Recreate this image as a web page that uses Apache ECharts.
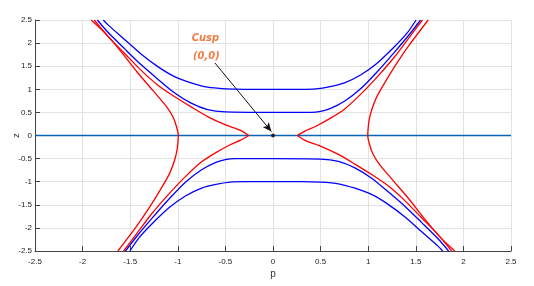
<!DOCTYPE html>
<html>
<head>
<meta charset="utf-8">
<script src="https://cdn.jsdelivr.net/npm/echarts@6/dist/echarts.min.js"></script>
<style>html,body{margin:0;padding:0;background:#fff}#c{width:534px;height:286px}</style>
</head>
<body>
<div id="c"></div>
<script>
// axis ticks
const xTicks = [-2.5, -2, -1.5, -1, -0.5, 0, 0.5, 1, 1.5, 2, 2.5];
const yTicks = [-2.5, -2, -1.5, -1, -0.5, 0, 0.5, 1, 1.5, 2, 2.5];

// blue curves [p, z]
const blueUp1 = [[-1.783,2.5],[-1.736,2.40],[-1.56,2.08],[-1.39,1.77],[-1.21,1.49],[-1.04,1.28],[-0.86,1.14],[-0.687,1.045],[-0.5,1.01],[-0.3,1.0],[0,1.0],[0.3,1.0],[0.45,1.01],[0.6,1.06],[0.75,1.14],[0.92,1.31],[1.09,1.56],[1.27,1.91],[1.41,2.22],[1.503,2.5]];
const blueUp05 = [[-1.845,2.5],[-1.736,2.24],[-1.56,1.88],[-1.39,1.54],[-1.21,1.22],[-1.04,0.93],[-0.86,0.70],[-0.687,0.56],[-0.5,0.51],[0,0.5],[0.4,0.5],[0.5,0.52],[0.6,0.58],[0.75,0.74],[0.92,1.01],[1.09,1.37],[1.27,1.79],[1.43,2.18],[1.55,2.5]];
const blueDn05 = [[1.845,-2.5],[1.736,-2.24],[1.56,-1.88],[1.39,-1.54],[1.21,-1.22],[1.04,-0.93],[0.86,-0.70],[0.687,-0.56],[0.5,-0.51],[0,-0.5],[-0.4,-0.5],[-0.5,-0.52],[-0.6,-0.58],[-0.75,-0.74],[-0.92,-1.01],[-1.09,-1.37],[-1.27,-1.79],[-1.43,-2.18],[-1.55,-2.5]];
const blueDn1 = [[1.783,-2.5],[1.736,-2.40],[1.56,-2.08],[1.39,-1.77],[1.21,-1.49],[1.04,-1.28],[0.86,-1.14],[0.687,-1.045],[0.5,-1.01],[0.3,-1.0],[0,-1.0],[-0.3,-1.0],[-0.45,-1.01],[-0.6,-1.06],[-0.75,-1.14],[-0.92,-1.31],[-1.09,-1.56],[-1.27,-1.91],[-1.41,-2.22],[-1.503,-2.5]];

// red outer curves
const redOuterR = [[1.63,2.5],[1.436,1.97],[1.296,1.55],[1.173,1.14],[1.086,0.82],[1.033,0.53],[1.008,0.31],[0.998,0.12],[0.995,0],[1.015,-0.2],[1.05,-0.40],[1.12,-0.63],[1.26,-0.97],[1.43,-1.38],[1.59,-1.8],[1.755,-2.2],[1.91,-2.5]];
const redOuterL = [[-1.91,2.5],[-1.755,2.2],[-1.59,1.8],[-1.43,1.38],[-1.26,0.97],[-1.12,0.63],[-1.05,0.40],[-1.015,0.2],[-0.995,0],[-0.998,-0.12],[-1.008,-0.31],[-1.033,-0.53],[-1.086,-0.82],[-1.173,-1.14],[-1.296,-1.55],[-1.436,-1.97],[-1.63,-2.5]];

// red inner (cusped) curves, branches
const redInnerRUp = [[0.255,0],[0.34,0.1],[0.45,0.2],[0.60,0.37],[0.75,0.57],[0.92,0.89],[1.10,1.28],[1.28,1.71],[1.43,2.12],[1.57,2.5]];
const redInnerRDn = [[0.255,0],[0.34,-0.11],[0.51,-0.24],[0.687,-0.41],[0.86,-0.62],[1.04,-0.85],[1.21,-1.09],[1.39,-1.42],[1.56,-1.78],[1.736,-2.15],[1.877,-2.5]];
const redInnerLUp = [[-0.255,0],[-0.34,0.11],[-0.51,0.24],[-0.687,0.41],[-0.86,0.62],[-1.04,0.85],[-1.21,1.09],[-1.39,1.42],[-1.56,1.78],[-1.736,2.15],[-1.877,2.5]];
const redInnerLDn = [[-0.255,0],[-0.34,-0.1],[-0.45,-0.2],[-0.60,-0.37],[-0.75,-0.57],[-0.92,-0.89],[-1.10,-1.28],[-1.28,-1.71],[-1.43,-2.12],[-1.57,-2.5]];

// z = 0 line
const zeroLine = [[-2.5,0],[2.5,0]];
// cusp point and annotation
const cuspPoint = [[0,0]];
const arrowFrom = [-0.61, 1.57];
const arrowTo = [-0.017, 0.087];
const labelCusp = [[-0.71, 2.10]];
const labelCoord = [[-0.70, 1.72]];

const chart = echarts.init(document.getElementById('c'), null, {renderer:'canvas'});
const font = "'Liberation Sans Narrow','Liberation Sans',Arial,sans-serif";
const noteFont = "'Liberation Sans Narrow','DejaVu Sans Condensed','Liberation Sans',Arial,sans-serif";

function curve(data, color) {
  return {type:'line', data, smooth:0.25, showSymbol:false, symbol:'none', clip:true,
    lineStyle:{color, width:1.3}, z:3, silent:true};
}

const option = {
  animation:false,
  grid:{left:35, right:23, top:20, bottom:35, containLabel:false, outerBoundsMode:'none'},
  xAxis:{type:'value', min:-2.5, max:2.5, interval:0.5,
    name:'p', nameLocation:'middle', nameGap:18, nameMoveOverlap:false, nameTextStyle:{fontSize:10, color:'#333', fontFamily:font},
    axisLine:{show:true, onZero:false, lineStyle:{color:'#444', width:1}},
    axisTick:{show:true, inside:true, length:5, lineStyle:{color:'#444'}},
    axisLabel:{fontSize:8, color:'#222', margin:7, fontFamily:font, formatter:v=>String(v)},
    splitLine:{show:true, lineStyle:{color:'#e2e2e2', width:1}}},
  yAxis:{type:'value', min:-2.5, max:2.5, interval:0.5,
    name:'z', nameLocation:'middle', nameGap:14, nameRotate:90, nameMoveOverlap:false, nameTextStyle:{fontSize:9, color:'#333', fontFamily:font},
    axisLine:{show:true, onZero:false, lineStyle:{color:'#444', width:1}},
    axisTick:{show:true, inside:true, length:5, lineStyle:{color:'#444'}},
    axisLabel:{fontSize:8, color:'#222', margin:3, fontFamily:font, formatter:v=>String(v)},
    splitLine:{show:true, lineStyle:{color:'#e2e2e2', width:1}}},
  series:[
    {type:'line', data:zeroLine, showSymbol:false, symbol:'none', lineStyle:{color:'#0a64b4', width:1.3}, z:2, silent:true},
    curve(blueUp1,'#0000ff'), curve(blueUp05,'#0000ff'), curve(blueDn05,'#0000ff'), curve(blueDn1,'#0000ff'),
    curve(redOuterR,'#ff0000'), curve(redOuterL,'#ff0000'),
    curve(redInnerRUp,'#ff0000'), curve(redInnerRDn,'#ff0000'), curve(redInnerLUp,'#ff0000'), curve(redInnerLDn,'#ff0000'),
    {type:'scatter', data:cuspPoint, symbolSize:4, itemStyle:{color:'#000'}, z:6, silent:true,
      markLine:{silent:true, symbol:['none','arrow'], symbolSize:[6,9], label:{show:false},
        lineStyle:{color:'#111', width:1, type:'solid'},
        data:[[{coord:arrowFrom},{coord:arrowTo}]]}},
    {type:'scatter', data:labelCusp, symbolSize:0, z:7, silent:true,
      label:{show:true, position:'inside', formatter:'Cusp', color:'#f05a14', fontSize:11, fontStyle:'italic', fontWeight:'bold', fontFamily:noteFont}},
    {type:'scatter', data:labelCoord, symbolSize:0, z:7, silent:true,
      label:{show:true, position:'inside', formatter:'(0,0)', color:'#f05a14', fontSize:11, fontStyle:'italic', fontWeight:'bold', fontFamily:noteFont}}
  ]
};
chart.setOption(option);
</script>
</body>
</html>
